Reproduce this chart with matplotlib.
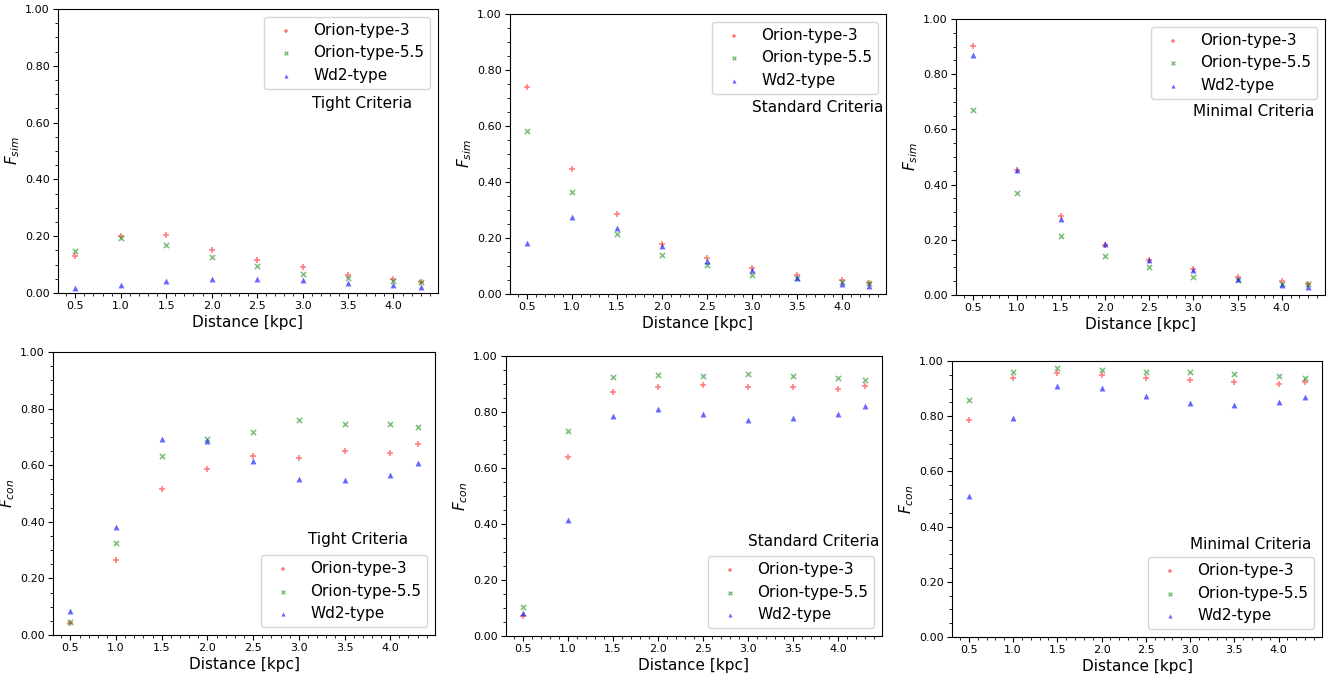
import matplotlib
matplotlib.use("Agg")
import matplotlib.pyplot as plt
from matplotlib.ticker import FormatStrFormatter

# distances in kpc
dist = [0.5, 1.0, 1.5, 2.0, 2.5, 3.0, 3.5, 4.0, 4.3]
labels = ["Orion-type-3", "Orion-type-5.5", "Wd2-type"]

# F_sim (top row)
sim_tight_o3 = [0.129, 0.202, 0.204, 0.151, 0.117, 0.090, 0.063, 0.048, 0.038]
sim_tight_o55 = [0.147, 0.195, 0.168, 0.126, 0.095, 0.066, 0.053, 0.043, 0.040]
sim_tight_wd2 = [0.016, 0.029, 0.043, 0.049, 0.049, 0.046, 0.036, 0.027, 0.021]

sim_std_o3 = [0.740, 0.445, 0.287, 0.180, 0.128, 0.094, 0.067, 0.049, 0.038]
sim_std_o55 = [0.582, 0.366, 0.213, 0.139, 0.103, 0.067, 0.056, 0.043, 0.039]
sim_std_wd2 = [0.181, 0.275, 0.235, 0.172, 0.118, 0.085, 0.056, 0.037, 0.029]

sim_min_o3 = [0.901, 0.452, 0.287, 0.180, 0.128, 0.094, 0.067, 0.050, 0.039]
sim_min_o55 = [0.671, 0.371, 0.215, 0.140, 0.103, 0.067, 0.053, 0.041, 0.040]
sim_min_wd2 = [0.869, 0.452, 0.277, 0.185, 0.126, 0.089, 0.057, 0.037, 0.028]

# F_con (bottom row)
con_tight_o3 = [0.043, 0.264, 0.516, 0.586, 0.633, 0.624, 0.649, 0.644, 0.676]
con_tight_o55 = [0.047, 0.325, 0.633, 0.693, 0.717, 0.758, 0.744, 0.747, 0.736]
con_tight_wd2 = [0.085, 0.380, 0.692, 0.686, 0.616, 0.551, 0.546, 0.565, 0.609]

con_std_o3 = [0.070, 0.638, 0.871, 0.890, 0.895, 0.889, 0.888, 0.882, 0.893]
con_std_o55 = [0.105, 0.731, 0.924, 0.933, 0.928, 0.934, 0.928, 0.920, 0.914]
con_std_wd2 = [0.082, 0.415, 0.787, 0.810, 0.794, 0.772, 0.777, 0.794, 0.820]

con_min_o3 = [0.788, 0.940, 0.956, 0.950, 0.940, 0.931, 0.925, 0.918, 0.925]
con_min_o55 = [0.857, 0.959, 0.975, 0.969, 0.959, 0.959, 0.952, 0.946, 0.940]
con_min_wd2 = [0.510, 0.794, 0.911, 0.902, 0.875, 0.848, 0.842, 0.850, 0.868]

W, H = 1343, 679
# axes boxes in pixels: left, top, right, bottom
boxes = [
    (58, 9, 438, 293), (510, 14, 886, 294), (956, 19, 1325, 295),
    (53, 352, 435, 635), (506, 356, 882, 636), (952, 361, 1322, 637),
]
panels = [
    (sim_tight_o3, sim_tight_o55, sim_tight_wd2, "Tight Criteria", 3.1, "sim"),
    (sim_std_o3, sim_std_o55, sim_std_wd2, "Standard Criteria", 3.0, "sim"),
    (sim_min_o3, sim_min_o55, sim_min_wd2, "Minimal Criteria", 3.0, "sim"),
    (con_tight_o3, con_tight_o55, con_tight_wd2, "Tight Criteria", 3.1, "con"),
    (con_std_o3, con_std_o55, con_std_wd2, "Standard Criteria", 3.0, "con"),
    (con_min_o3, con_min_o55, con_min_wd2, "Minimal Criteria", 3.0, "con"),
]

fig = plt.figure(figsize=(W / 100, H / 100), dpi=100)

for (l, t, r, b), (o3, o55, wd2, crit, tx, kind) in zip(boxes, panels):
    ax = fig.add_axes([l / W, 1 - b / H, (r - l) / W, (b - t) / H])
    ax.scatter(dist, o3, marker="+", s=16, color="red", alpha=0.5, linewidths=1.2, label=labels[0])
    ax.scatter(dist, o55, marker="x", s=14, color="green", alpha=0.5, linewidths=1.2, label=labels[1])
    ax.scatter(dist, wd2, marker="^", s=18, color="blue", alpha=0.6, linewidths=0, label=labels[2])
    ax.set_ylim(0, 1)
    ax.yaxis.set_major_formatter(FormatStrFormatter("%.2f"))
    ax.minorticks_on()
    ax.tick_params(which="major", labelsize=8, pad=2.5, length=3.5)
    ax.tick_params(which="minor", length=2)
    ax.set_xlabel("Distance [kpc]", fontsize=11, labelpad=2.5)
    ax.set_ylabel(r"$F_{%s}$" % kind, fontsize=11, labelpad=2)
    if kind == "sim":
        ax.legend(loc="upper right", fontsize=11, markerscale=0.7)
        ax.text(tx, 0.65, crit, fontsize=11)
    else:
        ax.legend(loc="lower right", fontsize=11, markerscale=0.7)
        ax.text(tx, 0.32, crit, fontsize=11)

fig.savefig("out.png", dpi=100)
